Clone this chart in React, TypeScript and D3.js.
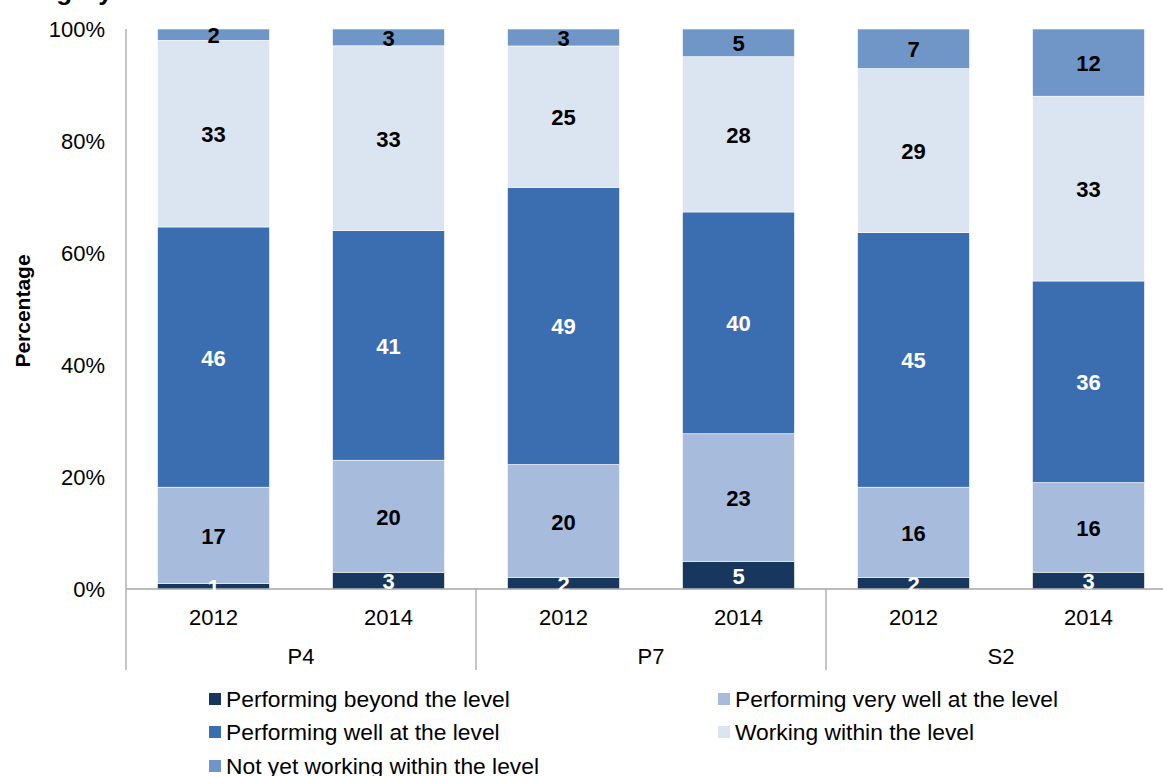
import React from "react";
import * as d3 from "d3";

const groups = ["P4", "P7", "S2"];
const years = ["2012", "2014"];
const categories = ["P4 2012", "P4 2014", "P7 2012", "P7 2014", "S2 2012", "S2 2014"];
const seriesNames = [
  "Performing beyond the level",
  "Performing very well at the level",
  "Performing well at the level",
  "Working within the level",
  "Not yet working within the level",
];
const beyond = [1, 3, 2, 5, 2, 3];
const veryWell = [17, 20, 20, 23, 16, 16];
const well = [46, 41, 49, 40, 45, 36];
const working = [33, 33, 25, 28, 29, 33];
const notYet = [2, 3, 3, 5, 7, 12];
const yTicks = [0, 20, 40, 60, 80, 100];

const colors = ["#17375e", "#a7bcdc", "#3b6db1", "#dbe5f1", "#7096c8"];
const labelColors = ["#ffffff", "#000000", "#ffffff", "#000000", "#000000"];

const W = 1163;
const H = 776;
const left = 126;
const top = 29;
const bottom = 589;
const font = "Arial, 'Liberation Sans', sans-serif";

export default function App() {
  const series = [beyond, veryWell, well, working, notYet];
  const x = d3
    .scaleBand<string>()
    .domain(categories)
    .range([left, left + 175 * categories.length])
    .paddingInner(0.36)
    .paddingOuter(0.18);
  const y = d3.scaleLinear().domain([0, 100]).range([bottom, top]);

  const rows = categories.map((c, i) => {
    const r: any = { cat: c };
    series.forEach((s, k) => (r[k] = s[i]));
    return r;
  });
  const stackGen = d3
    .stack<any>()
    .keys(series.map((_, k) => String(k)))
    .offset(d3.stackOffsetExpand);
  const stacked = stackGen(rows);

  const groupStep = x.step() * 2;
  const legendItems = [
    { k: 0, x: 209, y: 699 },
    { k: 1, x: 718, y: 699 },
    { k: 2, x: 209, y: 732 },
    { k: 3, x: 718, y: 732 },
    { k: 4, x: 209, y: 766 },
  ];

  return (
    <svg
      width={W}
      height={H}
      style={{ position: "absolute", left: 0, top: 0, background: "#fff" }}
      fontFamily={font}
    >
      <text x={0} y={0} fontSize={26} fontWeight="bold" fill="#000">
        Category
      </text>
      {/* bars */}
      {stacked.map((layer, k) => (
        <g key={k}>
          {layer.map((d, i) => (
            <rect
              key={i}
              x={x(categories[i])}
              width={x.bandwidth()}
              y={y(d[1] * 100)}
              height={y(d[0] * 100) - y(d[1] * 100)}
              fill={colors[k]}
              stroke="#ffffff"
              strokeWidth={0.6}
            />
          ))}
        </g>
      ))}
      {/* axes */}
      <line x1={left} x2={left} y1={top} y2={bottom} stroke="#a6a6a6" strokeWidth={1.3} />
      <line x1={left} x2={W} y1={bottom} y2={bottom} stroke="#a6a6a6" strokeWidth={1.3} />
      {[0, 1, 2, 3].map((g) => (
        <line
          key={g}
          x1={left + g * groupStep}
          x2={left + g * groupStep}
          y1={bottom}
          y2={670}
          stroke="#a6a6a6"
          strokeWidth={1.3}
        />
      ))}
      {yTicks.map((t) => (
        <text
          key={t}
          x={105}
          y={y(t)}
          textAnchor="end"
          dominantBaseline="central"
          fontSize={22}
          fill="#000"
        >
          {t}%
        </text>
      ))}
      {categories.map((c, i) => (
        <text
          key={c}
          x={(x(c) as number) + x.bandwidth() / 2}
          y={625}
          textAnchor="middle"
          fontSize={22}
          fill="#000"
        >
          {years[i % 2]}
        </text>
      ))}
      {groups.map((g, gi) => (
        <text
          key={g}
          x={left + gi * groupStep + groupStep / 2}
          y={664}
          textAnchor="middle"
          fontSize={22}
          fill="#000"
        >
          {g}
        </text>
      ))}
      <text
        transform={`translate(30,${(top + bottom) / 2 + 2}) rotate(-90)`}
        textAnchor="middle"
        fontSize={21}
        fontWeight="bold"
        fill="#000"
      >
        Percentage
      </text>
      {/* data labels */}
      {stacked.map((layer, k) => (
        <g key={"l" + k}>
          {layer.map((d, i) => (
            <text
              key={i}
              x={(x(categories[i]) as number) + x.bandwidth() / 2}
              y={(y(d[0] * 100) + y(d[1] * 100)) / 2 + 1}
              textAnchor="middle"
              dominantBaseline="central"
              fontSize={22}
              fontWeight="bold"
              fill={labelColors[k]}
            >
              {series[k][i]}
            </text>
          ))}
        </g>
      ))}
      {/* legend */}
      {legendItems.map((it) => (
        <g key={it.k}>
          <rect x={it.x} y={it.y - 6} width={12} height={12} fill={colors[it.k]} />
          <text x={it.x + 17} y={it.y} dominantBaseline="central" fontSize={22.8} fill="#000">
            {seriesNames[it.k]}
          </text>
        </g>
      ))}
    </svg>
  );
}
